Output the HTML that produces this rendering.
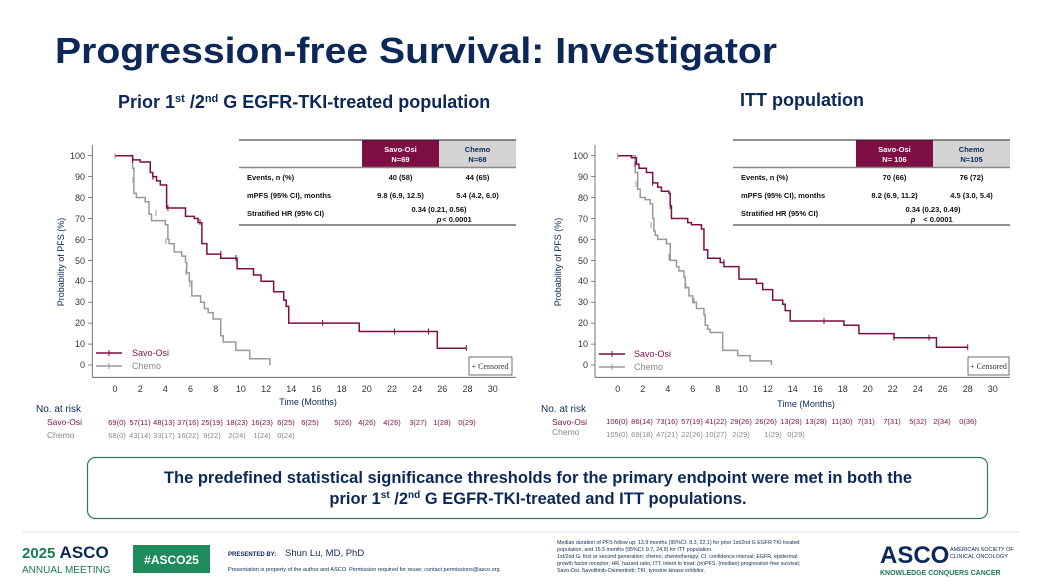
<!DOCTYPE html>
<html><head><meta charset="utf-8"><style>
html,body{margin:0;padding:0;background:#fff;}
svg{display:block;font-family:"Liberation Sans",Arial,sans-serif;}
</style></head><body>
<svg width="1040" height="585" viewBox="0 0 1040 585" xmlns="http://www.w3.org/2000/svg">
<rect width="1040" height="585" fill="#fff"/>
<text x="55" y="63" font-size="36" font-weight="bold" fill="#0c2859" textLength="722" lengthAdjust="spacingAndGlyphs">Progression-free Survival: Investigator</text>
<text x="118" y="108" font-size="18" font-weight="bold" fill="#0c2859">Prior 1<tspan font-size="11" dy="-6">st</tspan><tspan dy="6"> /2</tspan><tspan font-size="11" dy="-6">nd</tspan><tspan dy="6"> G EGFR-TKI-treated population</tspan></text>
<text x="740" y="106" font-size="18" font-weight="bold" fill="#0c2859">ITT population</text>

<!-- LEFT CHART -->
<g id="L">
<line x1="92.3" y1="145" x2="92.3" y2="377.3" stroke="#555" stroke-width="0.8"/>
<line x1="92.3" y1="377.3" x2="516" y2="377.3" stroke="#555" stroke-width="0.8"/>
<g font-size="9" fill="#333" text-anchor="end">
<text x="85" y="159">100</text><text x="85" y="180">90</text><text x="85" y="201">80</text><text x="85" y="222">70</text><text x="85" y="243">60</text><text x="85" y="264">50</text><text x="85" y="284">40</text><text x="85" y="305">30</text><text x="85" y="326">20</text><text x="85" y="347">10</text><text x="85" y="368">0</text>
</g>
<g stroke="#555" stroke-width="0.7">
<line x1="88" y1="155.7" x2="92" y2="155.7"/><line x1="88" y1="176.6" x2="92" y2="176.6"/><line x1="88" y1="197.6" x2="92" y2="197.6"/><line x1="88" y1="218.5" x2="92" y2="218.5"/><line x1="88" y1="239.4" x2="92" y2="239.4"/><line x1="88" y1="260.4" x2="92" y2="260.4"/><line x1="88" y1="281.3" x2="92" y2="281.3"/><line x1="88" y1="302.2" x2="92" y2="302.2"/><line x1="88" y1="323.1" x2="92" y2="323.1"/><line x1="88" y1="344.1" x2="92" y2="344.1"/><line x1="88" y1="365" x2="92" y2="365"/>
</g>
<text transform="translate(64,262) rotate(-90)" font-size="9" fill="#0c2859" text-anchor="middle">Probability of PFS (%)</text>
<g font-size="9" fill="#333" text-anchor="middle">
<text x="115" y="392">0</text><text x="140.2" y="392">2</text><text x="165.4" y="392">4</text><text x="190.5" y="392">6</text><text x="215.7" y="392">8</text><text x="240.9" y="392">10</text><text x="266.1" y="392">12</text><text x="291.3" y="392">14</text><text x="316.4" y="392">16</text><text x="341.6" y="392">18</text><text x="366.8" y="392">20</text><text x="392" y="392">22</text><text x="417.2" y="392">24</text><text x="442.3" y="392">26</text><text x="467.5" y="392">28</text><text x="492.7" y="392">30</text>
<text x="308" y="405" fill="#0c2859">Time (Months)</text>
</g>
<g transform="translate(115,365) scale(12.59,-2.093)" fill="none" stroke-linejoin="miter">
<polyline vector-effect="non-scaling-stroke" stroke="#999" stroke-width="1.5" points="0,100 1.4,100 1.4,94 1.5,94 1.5,82 1.7,82 1.7,80 2.4,80 2.4,78 2.7,78 2.7,72 2.9,72 2.9,69 4.0,69 4.0,67 4.2,67 4.2,60 4.3,60 4.3,58 4.7,58 4.7,54 5.3,54 5.3,52 5.6,52 5.6,49 5.7,49 5.7,44 5.9,44 5.9,40 6.1,40 6.1,33 6.8,33 6.8,30 7.1,30 7.1,27 7.4,27 7.4,25 7.8,25 7.8,22 8.4,22 8.4,14 8.6,14 8.6,11 9.6,11 9.6,7 10.7,7 10.7,3 12.3,3 12.3,0"/>
<polyline vector-effect="non-scaling-stroke" stroke="#7d0f45" stroke-width="1.5" points="0,100 1.4,100 1.4,98 2.0,98 2.0,97 2.8,97 2.8,92 3.0,92 3.0,90 3.3,90 3.3,88 3.6,88 3.6,86 4.1,86 4.1,75 5.6,75 5.6,71 6.3,71 6.3,70 6.6,70 6.6,68 6.9,68 6.9,58 7.0,58 7.3,58 7.3,53 8.4,53 8.4,51 9.7,51 9.7,46 11.0,46 11.0,43 11.6,43 11.6,40 12.6,40 12.6,35 13.4,35 13.4,31 13.6,31 13.6,28 13.8,28 13.8,20 19.4,20 19.4,16 25.6,16 25.6,8 27.9,8"/>
</g>
<g stroke="#999" stroke-width="1">
<line x1="115" y1="153" x2="115" y2="159"/><line x1="133" y1="177" x2="133" y2="183"/><line x1="156" y1="210" x2="156" y2="216"/><line x1="166" y1="238" x2="166" y2="244"/><line x1="186" y1="269" x2="186" y2="275"/><line x1="190" y1="281" x2="190" y2="287"/>
</g>
<g stroke="#7d0f45" stroke-width="1">
<line x1="132.6" y1="157" x2="132.6" y2="163"/><line x1="153" y1="174" x2="153" y2="180"/><line x1="167.9" y1="205" x2="167.9" y2="211"/><line x1="200" y1="219" x2="200" y2="225"/><line x1="220.8" y1="251" x2="220.8" y2="257"/><line x1="235.9" y1="255" x2="235.9" y2="261"/><line x1="322.7" y1="320" x2="322.7" y2="326"/><line x1="394.5" y1="328.5" x2="394.5" y2="334.5"/><line x1="428.5" y1="328.5" x2="428.5" y2="334.5"/><line x1="466.3" y1="345" x2="466.3" y2="351"/>
</g>
<line x1="96" y1="353" x2="122" y2="353" stroke="#7d0f45" stroke-width="1.5"/>
<line x1="109" y1="350" x2="109" y2="356" stroke="#7d0f45"/>
<line x1="96" y1="366" x2="122" y2="366" stroke="#999" stroke-width="1.5"/>
<line x1="109" y1="363" x2="109" y2="369" stroke="#999"/>
<text x="132" y="356" font-size="9" fill="#7d0f45">Savo-Osi</text>
<text x="132" y="369" font-size="9" fill="#888">Chemo</text>
<rect x="469" y="357" width="43" height="18" fill="#fff" stroke="#333" stroke-width="0.7"/>
<text x="490" y="369" font-size="8" font-family="Liberation Serif,serif" fill="#333" text-anchor="middle">+ Censored</text>
<rect x="362" y="140" width="77" height="28" fill="#7d0f45"/>
<rect x="439" y="140" width="77" height="28" fill="#d4d4d4"/>
<line x1="239" y1="140" x2="516" y2="140" stroke="#222" stroke-width="1"/>
<line x1="239" y1="167.5" x2="516" y2="167.5" stroke="#888" stroke-width="1.5"/>
<line x1="239" y1="225" x2="516" y2="225" stroke="#222" stroke-width="1"/>
<g font-size="7.5" font-weight="bold" text-anchor="middle">
<text x="400.5" y="152" fill="#fff">Savo-Osi</text><text x="400.5" y="162" fill="#fff">N=69</text>
<text x="477.5" y="152" fill="#0c2859">Chemo</text><text x="477.5" y="162" fill="#0c2859">N=68</text>
<g fill="#111"><text x="400.5" y="180">40 (58)</text><text x="477.5" y="180">44 (65)</text>
<text x="400.5" y="198">9.8 (6.9, 12.5)</text><text x="477.5" y="198">5.4 (4.2, 6.0)</text>
<text x="439" y="212">0.34 (0.21, 0.56)</text><text x="439" y="222" font-style="italic">p</text><text x="457" y="222" font-weight="bold">&lt; 0.0001</text></g>
</g>
<g font-size="7.5" font-weight="bold" fill="#111">
<text x="247" y="180">Events, n (%)</text><text x="247" y="198">mPFS (95% CI), months</text><text x="247" y="216">Stratified HR (95% CI)</text>
</g>
<text x="36" y="412" font-size="10" fill="#0c2859">No. at risk</text>
<text x="47" y="425" font-size="8.5" fill="#7d0f45">Savo-Osi</text>
<text x="47" y="438" font-size="8.5" fill="#888">Chemo</text>
<g font-size="7.5" fill="#7d0f45" text-anchor="middle">
<text x="117" y="425">69(0)</text><text x="140" y="425">57(11)</text><text x="164" y="425">48(13)</text><text x="188" y="425">37(16)</text><text x="212" y="425">25(19)</text><text x="237" y="425">18(23)</text><text x="262" y="425">16(23)</text><text x="286" y="425">6(25)</text><text x="310" y="425">6(25)</text><text x="343" y="425">5(26)</text><text x="367" y="425">4(26)</text><text x="392" y="425">4(26)</text><text x="418" y="425">3(27)</text><text x="442" y="425">1(28)</text><text x="467" y="425">0(29)</text>
</g>
<g font-size="7.5" fill="#888" text-anchor="middle">
<text x="117" y="438">68(0)</text><text x="140" y="438">43(14)</text><text x="164" y="438">33(17)</text><text x="188" y="438">16(22)</text><text x="212" y="438">9(22)</text><text x="237" y="438">2(24)</text><text x="262" y="438">1(24)</text><text x="286" y="438">0(24)</text>
</g>
</g>

<!-- RIGHT CHART -->
<g>
<line x1="595" y1="145" x2="595" y2="377.3" stroke="#555" stroke-width="0.8"/>
<line x1="595" y1="377.3" x2="1010" y2="377.3" stroke="#555" stroke-width="0.8"/>
<g font-size="9" fill="#333" text-anchor="end">
<text x="588" y="159">100</text><text x="588" y="180">90</text><text x="588" y="201">80</text><text x="588" y="222">70</text><text x="588" y="243">60</text><text x="588" y="264">50</text><text x="588" y="284">40</text><text x="588" y="305">30</text><text x="588" y="326">20</text><text x="588" y="347">10</text><text x="588" y="368">0</text>
</g>
<g stroke="#555" stroke-width="0.7">
<line x1="591" y1="155.7" x2="595" y2="155.7"/><line x1="591" y1="176.6" x2="595" y2="176.6"/><line x1="591" y1="197.6" x2="595" y2="197.6"/><line x1="591" y1="218.5" x2="595" y2="218.5"/><line x1="591" y1="239.4" x2="595" y2="239.4"/><line x1="591" y1="260.4" x2="595" y2="260.4"/><line x1="591" y1="281.3" x2="595" y2="281.3"/><line x1="591" y1="302.2" x2="595" y2="302.2"/><line x1="591" y1="323.1" x2="595" y2="323.1"/><line x1="591" y1="344.1" x2="595" y2="344.1"/><line x1="591" y1="365" x2="595" y2="365"/>
</g>
<text transform="translate(561,262) rotate(-90)" font-size="9" fill="#0c2859" text-anchor="middle">Probability of PFS (%)</text>
<g font-size="9" fill="#333" text-anchor="middle">
<text x="617.7" y="392">0</text><text x="642.7" y="392">2</text><text x="667.7" y="392">4</text><text x="692.7" y="392">6</text><text x="717.7" y="392">8</text><text x="742.7" y="392">10</text><text x="767.7" y="392">12</text><text x="792.7" y="392">14</text><text x="817.7" y="392">16</text><text x="842.7" y="392">18</text><text x="867.7" y="392">20</text><text x="892.7" y="392">22</text><text x="917.7" y="392">24</text><text x="942.7" y="392">26</text><text x="967.7" y="392">28</text><text x="992.7" y="392">30</text>
<text x="806" y="407" fill="#0c2859">Time (Months)</text>
</g>
<g transform="translate(617.7,365) scale(12.5,-2.093)" fill="none">
<polyline vector-effect="non-scaling-stroke" stroke="#999" stroke-width="1.5" points="0,100 1.4,100 1.4,92 1.6,92 1.6,84 1.8,84 1.8,80 2.2,80 2.2,79 2.6,79 2.6,77 2.8,77 2.8,70 2.9,70 2.9,64 3.0,64 3.0,62 3.2,62 3.2,60 3.9,60 3.9,58 4.2,58 4.2,50 4.7,50 4.7,47 4.9,47 4.9,45 5.3,45 5.3,42 5.4,42 5.4,37 5.7,37 5.7,33 6.0,33 6.0,30 6.3,30 6.3,27 6.9,27 6.9,24 7.0,24 7.0,19 7.2,19 7.2,17 7.4,17 7.4,15.5 8.4,15.5 8.4,7 9.6,7 9.6,4.5 10.6,4.5 10.6,2 12.3,2 12.3,0"/>
<polyline vector-effect="non-scaling-stroke" stroke="#7d0f45" stroke-width="1.5" points="0,100 1.1,100 1.1,99 1.5,99 1.5,96 1.7,96 1.7,94 2.3,94 2.3,92 2.8,92 2.8,87 3.2,87 3.2,85 3.5,85 3.5,83 4.1,83 4.1,82 4.2,82 4.2,76 4.3,76 4.3,70 5.6,70 5.6,68 5.9,68 5.9,67 6.7,67 6.7,65 6.9,65 6.9,55 7.2,55 7.2,51 8.2,51 8.2,49 8.5,49 8.5,47 9.7,47 9.7,41 11.1,41 11.1,39 11.6,39 11.6,36 12.4,36 12.4,31 13.2,31 13.2,29 13.4,29 13.4,26 13.8,26 13.8,21 18.1,21 18.1,19 19.3,19 19.3,15 22.1,15 22.1,13 25.5,13 25.5,8.5 28,8.5"/>
</g>
<g stroke="#999" stroke-width="1">
<line x1="617.7" y1="153" x2="617.7" y2="159"/><line x1="636" y1="181" x2="636" y2="187"/><line x1="651" y1="222" x2="651" y2="228"/><line x1="669" y1="254" x2="669" y2="260"/><line x1="686" y1="283" x2="686" y2="289"/><line x1="694" y1="298" x2="694" y2="304"/>
</g>
<g stroke="#7d0f45" stroke-width="1">
<line x1="635" y1="161" x2="635" y2="167"/><line x1="652.7" y1="180" x2="652.7" y2="186"/><line x1="670.2" y1="203" x2="670.2" y2="209"/><line x1="704" y1="230" x2="704" y2="236"/><line x1="724" y1="259.4" x2="724" y2="265.4"/><line x1="739" y1="270" x2="739" y2="276"/><line x1="824" y1="318" x2="824" y2="324"/><line x1="859" y1="326" x2="859" y2="332"/><line x1="894" y1="334.8" x2="894" y2="340.8"/><line x1="929" y1="334.8" x2="929" y2="340.8"/><line x1="967.7" y1="344.2" x2="967.7" y2="350.2"/>
</g>
<line x1="599" y1="354" x2="625" y2="354" stroke="#7d0f45" stroke-width="1.5"/>
<line x1="612" y1="351" x2="612" y2="357" stroke="#7d0f45"/>
<line x1="599" y1="367" x2="625" y2="367" stroke="#999" stroke-width="1.5"/>
<line x1="612" y1="364" x2="612" y2="370" stroke="#999"/>
<text x="634" y="357" font-size="9" fill="#7d0f45">Savo-Osi</text>
<text x="634" y="370" font-size="9" fill="#888">Chemo</text>
<rect x="968" y="357" width="41" height="18" fill="#fff" stroke="#333" stroke-width="0.7"/>
<text x="988.5" y="369" font-size="8" font-family="Liberation Serif,serif" fill="#333" text-anchor="middle">+ Censored</text>
<rect x="856" y="140" width="77" height="28" fill="#7d0f45"/>
<rect x="933" y="140" width="77" height="28" fill="#d4d4d4"/>
<line x1="733" y1="140" x2="1010" y2="140" stroke="#222" stroke-width="1"/>
<line x1="733" y1="167.5" x2="1010" y2="167.5" stroke="#888" stroke-width="1.5"/>
<line x1="733" y1="225" x2="1010" y2="225" stroke="#222" stroke-width="1"/>
<g font-size="7.5" font-weight="bold" text-anchor="middle">
<text x="894.5" y="152" fill="#fff">Savo-Osi</text><text x="894.5" y="162" fill="#fff">N= 106</text>
<text x="971.5" y="152" fill="#0c2859">Chemo</text><text x="971.5" y="162" fill="#0c2859">N=105</text>
<g fill="#111"><text x="894.5" y="180">70 (66)</text><text x="971.5" y="180">76 (72)</text>
<text x="894.5" y="198">8.2 (6.9, 11.2)</text><text x="971.5" y="198">4.5 (3.0, 5.4)</text>
<text x="933" y="212">0.34 (0.23, 0.49)</text><text x="913" y="222" font-style="italic">p</text><text x="938" y="222">&lt; 0.0001</text></g>
</g>
<g font-size="7.5" font-weight="bold" fill="#111">
<text x="741" y="180">Events, n (%)</text><text x="741" y="198">mPFS (95% CI), months</text><text x="741" y="216">Stratified HR (95% CI)</text>
</g>
<text x="541" y="412" font-size="10" fill="#0c2859">No. at risk</text>
<text x="552" y="425" font-size="8.5" fill="#7d0f45">Savo-Osi</text>
<text x="552" y="435" font-size="8.5" fill="#888">Chemo</text>
<g font-size="7.5" fill="#7d0f45" text-anchor="middle">
<text x="617" y="424">106(0)</text><text x="642" y="424">86(14)</text><text x="667" y="424">73(16)</text><text x="692" y="424">57(19)</text><text x="716" y="424">41(22)</text><text x="741" y="424">29(26)</text><text x="766" y="424">26(26)</text><text x="791" y="424">13(28)</text><text x="816" y="424">13(28)</text><text x="842" y="424">11(30)</text><text x="866" y="424">7(31)</text><text x="892" y="424">7(31)</text><text x="918" y="424">5(32)</text><text x="942" y="424">2(34)</text><text x="968" y="424">0(36)</text>
</g>
<g font-size="7.5" fill="#888" text-anchor="middle">
<text x="617" y="437">105(0)</text><text x="642" y="437">69(18)</text><text x="667" y="437">47(21)</text><text x="692" y="437">22(26)</text><text x="716" y="437">10(27)</text><text x="741" y="437">2(29)</text><text x="773" y="437">1(29)</text><text x="796" y="437">0(29)</text>
</g>
</g>

<!-- callout -->
<rect x="87.5" y="457.5" width="900" height="61" rx="8" fill="#fff" stroke="#2f7a5c" stroke-width="1.2"/>
<text x="538" y="483" font-size="16.5" font-weight="bold" fill="#0c2859" text-anchor="middle">The predefined statistical significance thresholds for the primary endpoint were met in both the</text>
<text x="538" y="504" font-size="16.5" font-weight="bold" fill="#0c2859" text-anchor="middle">prior 1<tspan font-size="10" dy="-6">st</tspan><tspan dy="6"> /2</tspan><tspan font-size="10" dy="-6">nd</tspan><tspan dy="6"> G EGFR-TKI-treated and ITT populations.</tspan></text>

<!-- footer -->
<line x1="22" y1="532" x2="1020" y2="532" stroke="#e2e2e2" stroke-width="1"/>
<text x="22" y="558" font-size="15" font-weight="bold" fill="#1b7a50">2025 <tspan fill="#0c2859" font-size="17">ASCO</tspan></text>
<text x="22" y="573" font-size="10" fill="#1b7a50">ANNUAL MEETING</text>
<rect x="133" y="545" width="77" height="28" fill="#1f8a5b"/>
<text x="171.5" y="564" font-size="12" font-weight="bold" fill="#fff" text-anchor="middle">#ASCO25</text>
<text x="228" y="556" font-size="6" font-weight="bold" fill="#0c2859">PRESENTED BY:</text>
<text x="285" y="556" font-size="9.5" fill="#0c2859">Shun Lu, MD, PhD</text>
<text x="228" y="571" font-size="5.5" fill="#0c2859">Presentation is property of the author and ASCO. Permission required for reuse; contact permissions@asco.org.</text>
<g font-size="5.3" fill="#0c2859">
<text x="557" y="544">Median duration of PFS follow up: 13.9 months (95%CI: 8.3, 22.1) for prior 1st/2nd G EGFR TKI treated</text>
<text x="557" y="551">population, and 15.5 months (95%CI: 9.7, 24.9) for ITT population.</text>
<text x="557" y="558">1st/2nd G: first or second generation; chemo, chemotherapy; CI, confidence interval; EGFR, epidermal</text>
<text x="557" y="565">growth factor receptor; HR, hazard ratio; ITT, intent to treat; (m)PFS, (median) progression-free survival;</text>
<text x="557" y="572">Savo-Osi, Savolitinib-Osimertinib; TKI, tyrosine kinase inhibitor.</text>
</g>
<text x="880" y="563" font-size="24" font-weight="bold" fill="#0c2859">ASCO</text>
<text x="950" y="551" font-size="5.5" fill="#0c2859">AMERICAN SOCIETY OF</text>
<text x="950" y="558" font-size="5.5" fill="#0c2859">CLINICAL ONCOLOGY</text>
<text x="880" y="575" font-size="7" font-weight="bold" fill="#1b7a50">KNOWLEDGE CONQUERS CANCER</text>
</svg>
</body></html>
